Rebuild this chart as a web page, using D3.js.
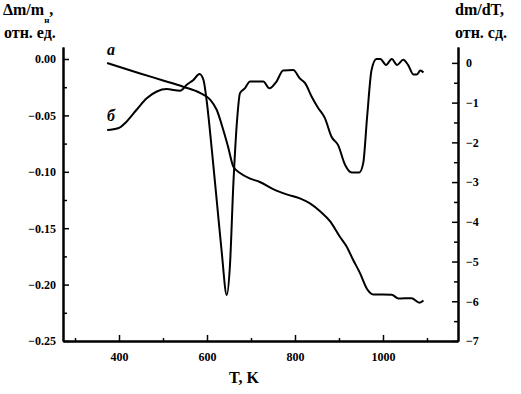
<!doctype html>
<html>
  <head>
    <script src="https://d3js.org/d3.v7.min.js"></script>
    <style>
      body { margin: 0; background: #fff; }
      text { font-family: "Liberation Serif", "Times New Roman", serif; font-weight: bold; fill: #000; }
      .tick text { font-size: 12px; }
      .axis path, .axis line { stroke: #000; }
    </style>
  </head>
  <body>
    <div id="chart"></div>
    <script>
      // curve "а": relative mass loss, left axis
      var tempA = [373, 448, 500, 546, 584, 607, 622, 637, 648, 660, 675, 698, 720, 754, 781,
                   811, 834, 857, 880, 902, 917, 932, 948, 963, 978, 1020, 1035, 1065, 1083, 1092];
      var massA = [-0.0035, -0.0128, -0.019, -0.0246, -0.030, -0.036, -0.045, -0.063, -0.078, -0.0955,
                   -0.101, -0.106, -0.109, -0.116, -0.120, -0.1236, -0.128, -0.135, -0.144, -0.1576,
                   -0.166, -0.178, -0.190, -0.2034, -0.2087, -0.209, -0.2123, -0.212, -0.216, -0.214];

      // curve "б": dm/dT, right axis
      var tempB = [373, 398, 417, 440, 463, 486, 508, 539, 554, 569, 583, 592, 599, 611, 622, 633,
                   645, 652, 660, 669, 675, 686, 698, 728, 742, 758, 773, 796, 811, 823, 838, 853,
                   868, 883, 898, 914, 929, 946, 955, 964, 974, 985, 994, 1007, 1020, 1032, 1046,
                   1057, 1069, 1077, 1085, 1092];
      var dtgB = [-1.69, -1.645, -1.48, -1.18, -0.89, -0.72, -0.66, -0.70, -0.55, -0.43, -0.28, -0.43,
                  -0.93, -2.19, -3.45, -4.71, -5.84, -5.13, -3.03, -1.35, -0.76, -0.64, -0.47, -0.47,
                  -0.64, -0.47, -0.19, -0.18, -0.39, -0.51, -0.85, -1.14, -1.39, -1.86, -2.07, -2.57,
                  -2.76, -2.76, -2.53, -1.35, -0.18, 0.10, 0.10, -0.05, 0.10, -0.05, 0.08, -0.05,
                  -0.29, -0.29, -0.19, -0.24];

      // tick values
      var xTicks = [400, 600, 800, 1000];
      var xMinor = [300, 500, 700, 900, 1100];
      var leftTicks = [0, -0.05, -0.10, -0.15, -0.20, -0.25];
      var leftMinor = [-0.025, -0.075, -0.125, -0.175, -0.225];
      var rightTicks = [0, -1, -2, -3, -4, -5, -6, -7];
      var rightMinor = [-0.5, -1.5, -2.5, -3.5, -4.5, -5.5, -6.5];

      var width = 521, height = 394;
      var svg = d3.select("#chart").append("svg")
        .attr("width", width)
        .attr("height", height);

      var x = d3.scaleLinear().domain([272.7, 1170.5]).range([63, 458]);
      var yL = d3.scaleLinear().domain([-0.25, 0.01064]).range([341, 47]);
      var yR = d3.scaleLinear().domain([-7, 0.4]).range([341, 47]);

      // bottom axis, ticks pointing inward
      svg.append("g").attr("class", "axis")
        .attr("transform", "translate(0,341)")
        .call(d3.axisBottom(x).tickValues(xMinor).tickSizeInner(-3).tickSizeOuter(0).tickFormat(""));
      svg.append("g").attr("class", "axis")
        .attr("transform", "translate(0,341)")
        .call(d3.axisBottom(x).tickValues(xTicks).tickSizeInner(-6).tickSizeOuter(0).tickPadding(11).tickFormat(d3.format("d")));

      // left axis
      svg.append("g").attr("class", "axis")
        .attr("transform", "translate(63,0)")
        .call(d3.axisLeft(yL).tickValues(leftMinor).tickSizeInner(-4).tickSizeOuter(0).tickFormat(""));
      svg.append("g").attr("class", "axis")
        .attr("transform", "translate(63,0)")
        .call(d3.axisLeft(yL).tickValues(leftTicks).tickSizeInner(-6).tickSizeOuter(0).tickPadding(7).tickFormat(d3.format(".2f")));

      // right axis
      svg.append("g").attr("class", "axis")
        .attr("transform", "translate(458,0)")
        .call(d3.axisRight(yR).tickValues(rightMinor).tickSizeInner(-4).tickSizeOuter(0).tickFormat(""));
      svg.append("g").attr("class", "axis")
        .attr("transform", "translate(458,0)")
        .call(d3.axisRight(yR).tickValues(rightTicks).tickSizeInner(-6).tickSizeOuter(0).tickPadding(8).tickFormat(d3.format("d")));

      svg.selectAll(".axis path").attr("stroke-width", 2);
      svg.selectAll(".axis line").attr("stroke-width", 1.5);

      // curves
      var lineA = d3.line()
        .x(function(d, i) { return x(tempA[i]); })
        .y(function(d) { return yL(d); })
        .curve(d3.curveMonotoneX);
      svg.append("path")
        .attr("d", lineA(massA))
        .attr("fill", "none").attr("stroke", "#000").attr("stroke-width", 2);

      var lineB = d3.line()
        .x(function(d, i) { return x(tempB[i]); })
        .y(function(d) { return yR(d); })
        .curve(d3.curveMonotoneX);
      svg.append("path")
        .attr("d", lineB(dtgB))
        .attr("fill", "none").attr("stroke", "#000").attr("stroke-width", 2);

      // curve labels
      svg.append("text").attr("x", 107).attr("y", 55)
        .style("font-size", "16px").style("font-style", "italic").text("а");
      svg.append("text").attr("x", 107).attr("y", 121)
        .style("font-size", "16px").style("font-style", "italic").text("б");

      // axis titles
      var tl = svg.append("text").attr("x", 3).attr("y", 15).style("font-size", "16px");
      tl.append("tspan").text("Δm/m");
      tl.append("tspan").attr("dy", 8).style("font-size", "9px").text("н");
      tl.append("tspan").attr("dy", -8).text(",");
      svg.append("text").attr("x", 4).attr("y", 38).style("font-size", "16px").text("отн. ед.");

      svg.append("text").attr("x", 455).attr("y", 15).style("font-size", "16px").text("dm/dT,");
      svg.append("text").attr("x", 455).attr("y", 38).style("font-size", "16px").text("отн. сд.");

      svg.append("text").attr("x", 244).attr("y", 383)
        .attr("text-anchor", "middle").style("font-size", "16px").text("T, K");
    </script>
  </body>
</html>
